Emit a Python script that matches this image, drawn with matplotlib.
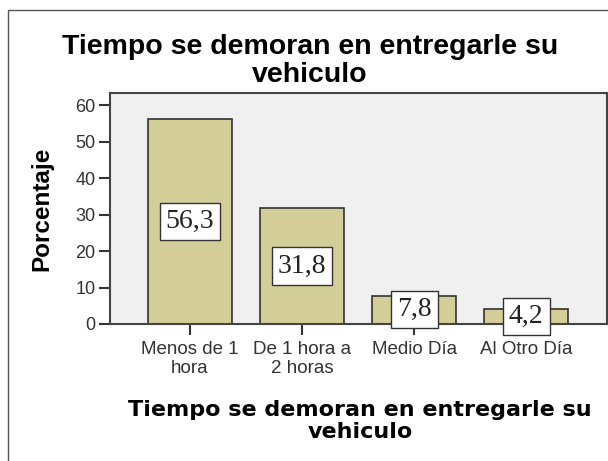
import matplotlib
matplotlib.use("Agg")
import matplotlib.pyplot as plt
from matplotlib.patches import Rectangle

categories = ["Menos de 1\nhora", "De 1 hora a\n2 horas", "Medio Día", "Al Otro Día"]
values = [56.3, 31.8, 7.8, 4.2]
value_labels = ["56,3", "31,8", "7,8", "4,2"]
yticks = [0, 10, 20, 30, 40, 50, 60]
title = "Tiempo se demoran en entregarle su\nvehiculo"

plt.rcParams['font.family'] = ['Liberation Sans', 'DejaVu Sans']

fig = plt.figure(figsize=(6.08, 4.61), dpi=100)
fig.patch.set_facecolor('white')
fig.patches.append(Rectangle((8/608, -0.1), 1.2, (461-10)/461 + 0.1, transform=fig.transFigure,
                             fill=False, edgecolor='#555555', linewidth=1.0))

ax = fig.add_axes([110/608, 1-324/461, (607-110)/608, (324-93)/461])
ax.set_facecolor('#f0f0f0')
x = list(range(len(values)))
ax.bar(x, values, width=0.75, color='#d3ce98', edgecolor='#333333', linewidth=1.2, zorder=2)
for xi, v, lab in zip(x, values, value_labels):
    ax.text(xi, v/2, lab, ha='center', va='center', fontsize=20, family='Liberation Serif',
            color='#222222', zorder=4,
            bbox=dict(boxstyle='square,pad=0.22', facecolor='white', edgecolor='#333333', linewidth=1.0))

ax.set_xlim(-0.714, 3.72)
ax.set_ylim(0, 63.3)
ax.set_yticks(yticks)
ax.set_yticklabels([str(t) for t in yticks], fontsize=13, color='#333333')
ax.set_xticks(x)
ax.set_xticklabels(categories, fontsize=13.5, color='#333333', linespacing=1.15)
ax.tick_params(axis='both', direction='out', length=8, width=1.5, color='#333333', pad=1.5)
ax.tick_params(axis='x', pad=4)
ax.tick_params(axis='y', pad=2.5)
for s in ax.spines.values():
    s.set_color('#444444')
    s.set_linewidth(1.5)

ax.set_ylabel('Porcentaje', fontsize=17.5, fontweight='bold')
ax.yaxis.set_label_coords(-0.113, 0.5)

fig.text(310/608, 1-61/461, title, ha='center', va='center', fontsize=20.5, fontweight='bold',
         linespacing=1.05)
fig.text(360/608, 1-421/461, "Tiempo se demoran en entregarle su\nvehiculo", ha='center', va='center',
         fontsize=16, fontweight='bold', family='DejaVu Sans', linespacing=1.1)

fig.savefig('out.png', dpi=100)
